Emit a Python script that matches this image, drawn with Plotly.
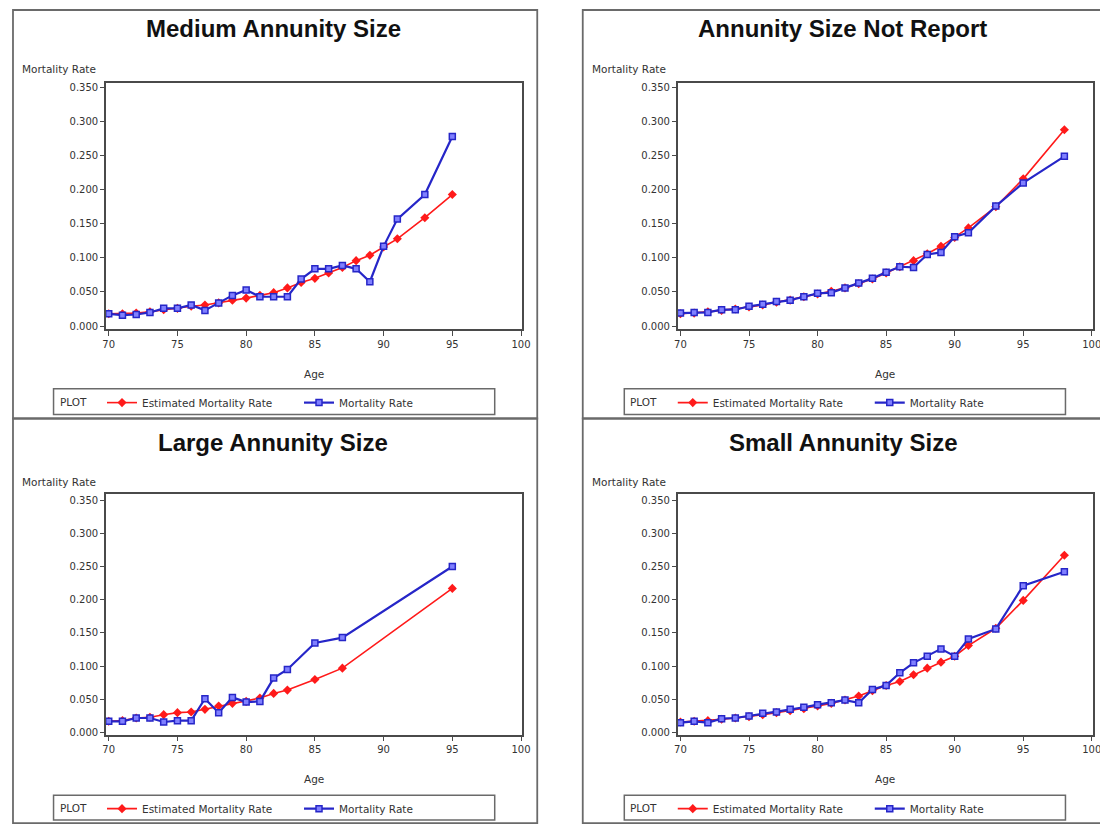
import plotly.graph_objects as go

# ---------------- data ----------------
ages_medium = [70, 71, 72, 73, 74, 75, 76, 77, 78, 79, 80, 81, 82, 83, 84, 85, 86, 87, 88, 89, 90, 91, 93, 95]
est_medium = [0.018, 0.018, 0.019, 0.021, 0.024, 0.026, 0.029, 0.031, 0.034, 0.038, 0.041, 0.045,
              0.049, 0.056, 0.064, 0.070, 0.078, 0.086, 0.096, 0.104, 0.116, 0.128, 0.159, 0.193]
obs_medium = [0.018, 0.016, 0.017, 0.020, 0.026, 0.026, 0.031, 0.023, 0.034, 0.045, 0.053, 0.043,
              0.043, 0.043, 0.069, 0.084, 0.084, 0.089, 0.084, 0.065, 0.117, 0.157, 0.193, 0.278]

ages_notrep = [70, 71, 72, 73, 74, 75, 76, 77, 78, 79, 80, 81, 82, 83, 84, 85, 86, 87, 88, 89, 90, 91, 93, 95, 98]
est_notrep = [0.018, 0.019, 0.021, 0.023, 0.025, 0.028, 0.031, 0.035, 0.038, 0.043, 0.047, 0.051, 0.056,
              0.062, 0.069, 0.078, 0.087, 0.096, 0.106, 0.117, 0.130, 0.144, 0.175, 0.216, 0.288]
obs_notrep = [0.019, 0.020, 0.020, 0.024, 0.024, 0.029, 0.032, 0.036, 0.038, 0.043, 0.048, 0.049, 0.056,
              0.063, 0.070, 0.079, 0.087, 0.086, 0.105, 0.108, 0.131, 0.137, 0.176, 0.210, 0.249]

ages_large = [70, 71, 72, 73, 74, 75, 76, 77, 78, 79, 80, 81, 82, 83, 85, 87, 95]
est_large = [0.017, 0.018, 0.022, 0.023, 0.027, 0.030, 0.031, 0.035, 0.040, 0.044, 0.047, 0.052,
             0.059, 0.064, 0.080, 0.097, 0.217]
obs_large = [0.017, 0.017, 0.022, 0.022, 0.016, 0.018, 0.018, 0.051, 0.030, 0.053, 0.046, 0.047,
             0.082, 0.095, 0.135, 0.143, 0.250]

ages_small = [70, 71, 72, 73, 74, 75, 76, 77, 78, 79, 80, 81, 82, 83, 84, 85, 86, 87, 88, 89, 90, 91, 93, 95, 98]
est_small = [0.016, 0.017, 0.018, 0.020, 0.022, 0.024, 0.027, 0.030, 0.033, 0.036, 0.040, 0.044, 0.049,
             0.055, 0.063, 0.071, 0.077, 0.087, 0.097, 0.106, 0.115, 0.131, 0.157, 0.199, 0.267]
obs_small = [0.015, 0.017, 0.015, 0.021, 0.022, 0.025, 0.029, 0.031, 0.035, 0.038, 0.042, 0.045, 0.049,
             0.045, 0.065, 0.071, 0.090, 0.105, 0.115, 0.126, 0.115, 0.141, 0.156, 0.221, 0.242]

titles = ["Medium Annunity Size", "Annunity Size Not Report", "Large Annunity Size", "Small Annunity Size"]
x_ticks = [70, 75, 80, 85, 90, 95, 100]
y_ticks = [0.0, 0.05, 0.10, 0.15, 0.20, 0.25, 0.30, 0.35]
est_name = "Estimated Mortality Rate"
obs_name = "Mortality Rate"
legend_label = "PLOT"

# ---------------- layout geometry (pixels, in screenshot coordinates) ----------------
W, H = 1108, 829
OFF = 8  # default page margin of the html body
panel_x = [(6, 539), (585, 1114)]
panel_y = [(3, 420), (420, 827)]
frame_x = [(103, 524), (681, 1101)]
frame_y = [(82, 330), (496, 738)]
yranges = [(-0.0044, 0.3573), (-0.003, 0.359)]
title_x = [272, 848]
title_y = [28, 444]
ylab_y = [68, 484]
age_y = [375, 783]
leg_box_x = [(50, 496), (627, 1073)]
leg_box_y = [(390, 416), (799, 824)]
ylab_x = [16, 592]
plot_lbl_x = [54, 631]

RED = "#ff1a1a"
BLUE = "#2626c8"
TXT = "#333333"
SMALL_FONT = "DejaVu Sans"


def px_x(p):
    return max(p - OFF, 1) / W


def px_y(p):
    return 1 - max(p - OFF, 1) / H


datasets = [
    (ages_medium, est_medium, obs_medium),
    (ages_notrep, est_notrep, obs_notrep),
    (ages_large, est_large, obs_large),
    (ages_small, est_small, obs_small),
]

fig = go.Figure()
layout = dict(
    width=W, height=H,
    margin=dict(l=0, r=0, t=0, b=0),
    paper_bgcolor="white", plot_bgcolor="white",
    showlegend=True,
)
shapes = []
annotations = []

for i, (ages, est, obs) in enumerate(datasets):
    row, col = divmod(i, 2)
    ax = "" if i == 0 else str(i + 1)
    legname = "legend" if i == 0 else "legend%d" % (i + 1)

    fig.add_trace(go.Scatter(
        x=ages, y=est, name=est_name, mode="lines+markers",
        xaxis="x" + ax, yaxis="y" + ax, legend=legname,
        line=dict(color=RED, width=1.6),
        marker=dict(symbol="diamond", size=7, color=RED),
    ))
    fig.add_trace(go.Scatter(
        x=ages, y=obs, name=obs_name, mode="lines+markers",
        xaxis="x" + ax, yaxis="y" + ax, legend=legname,
        line=dict(color=BLUE, width=2.2),
        marker=dict(symbol="square", size=6, color="#8080ff",
                    line=dict(color=BLUE, width=1.5)),
    ))

    fx0, fx1 = frame_x[col]
    fy0, fy1 = frame_y[row]
    layout["xaxis" + ax] = dict(
        domain=[px_x(fx0), px_x(fx1)], range=[69.8, 100.1],
        anchor="y" + ax, tickvals=x_ticks, ticktext=[str(v) for v in x_ticks],
        showgrid=False, zeroline=False, showline=True, mirror=True,
        linecolor="#4a4a4a", linewidth=1.5, ticks="outside", ticklen=5,
        tickcolor="#4a4a4a", tickfont=dict(family=SMALL_FONT, size=10, color=TXT),
    )
    layout["yaxis" + ax] = dict(
        domain=[px_y(fy1), px_y(fy0)], range=list(yranges[row]),
        anchor="x" + ax, tickvals=y_ticks, tickformat=".3f",
        showgrid=False, zeroline=False, showline=True, mirror=True,
        linecolor="#4a4a4a", linewidth=1.5, ticks="outside", ticklen=4,
        tickcolor="#4a4a4a", tickfont=dict(family=SMALL_FONT, size=10, color=TXT),
    )

    # panel border
    px0, px1 = panel_x[col]
    py0, py1 = panel_y[row]
    shapes.append(dict(type="rect", xref="paper", yref="paper",
                       x0=px_x(px0), x1=px_x(px1), y0=px_y(py1), y1=px_y(py0),
                       line=dict(color="#6a6a6a", width=1.8), layer="below"))
    # legend box
    lx0, lx1 = leg_box_x[col]
    ly0, ly1 = leg_box_y[row]
    shapes.append(dict(type="rect", xref="paper", yref="paper",
                       x0=px_x(lx0), x1=px_x(lx1), y0=px_y(ly1), y1=px_y(ly0),
                       line=dict(color="#6a6a6a", width=1.5), layer="below"))

    # title
    annotations.append(dict(
        text=titles[i], xref="paper", yref="paper",
        x=px_x(title_x[col]), y=px_y(title_y[row]),
        xanchor="center", yanchor="middle", showarrow=False,
        font=dict(family="Liberation Sans, Arial", size=24, color="#111111", weight="bold"),
    ))
    # y-axis label
    annotations.append(dict(
        text="Mortality Rate", xref="paper", yref="paper",
        x=px_x(ylab_x[col]), y=px_y(ylab_y[row]),
        xanchor="left", yanchor="middle", showarrow=False,
        font=dict(family=SMALL_FONT, size=10.5, color=TXT),
    ))
    # x-axis label
    annotations.append(dict(
        text="Age", xref="paper", yref="paper",
        x=px_x((fx0 + fx1) / 2), y=px_y(age_y[row]),
        xanchor="center", yanchor="middle", showarrow=False,
        font=dict(family=SMALL_FONT, size=10.5, color=TXT),
    ))
    # legend label
    annotations.append(dict(
        text=legend_label, xref="paper", yref="paper",
        x=px_x(plot_lbl_x[col]), y=px_y((ly0 + ly1) / 2),
        xanchor="left", yanchor="middle", showarrow=False,
        font=dict(family=SMALL_FONT, size=10.5, color=TXT),
    ))

    layout[legname] = dict(
        orientation="h", xanchor="left", yanchor="middle",
        x=px_x(plot_lbl_x[col] + 45), y=px_y((ly0 + ly1) / 2 + 1),
        font=dict(family=SMALL_FONT, size=10.5, color=TXT),
        bgcolor="rgba(0,0,0,0)", borderwidth=0,
        entrywidth=152, entrywidthmode="pixels", itemwidth=30,
        tracegroupgap=0,
    )

layout["shapes"] = shapes
layout["annotations"] = annotations
fig.update_layout(**layout)

fig.write_html("out.html")
